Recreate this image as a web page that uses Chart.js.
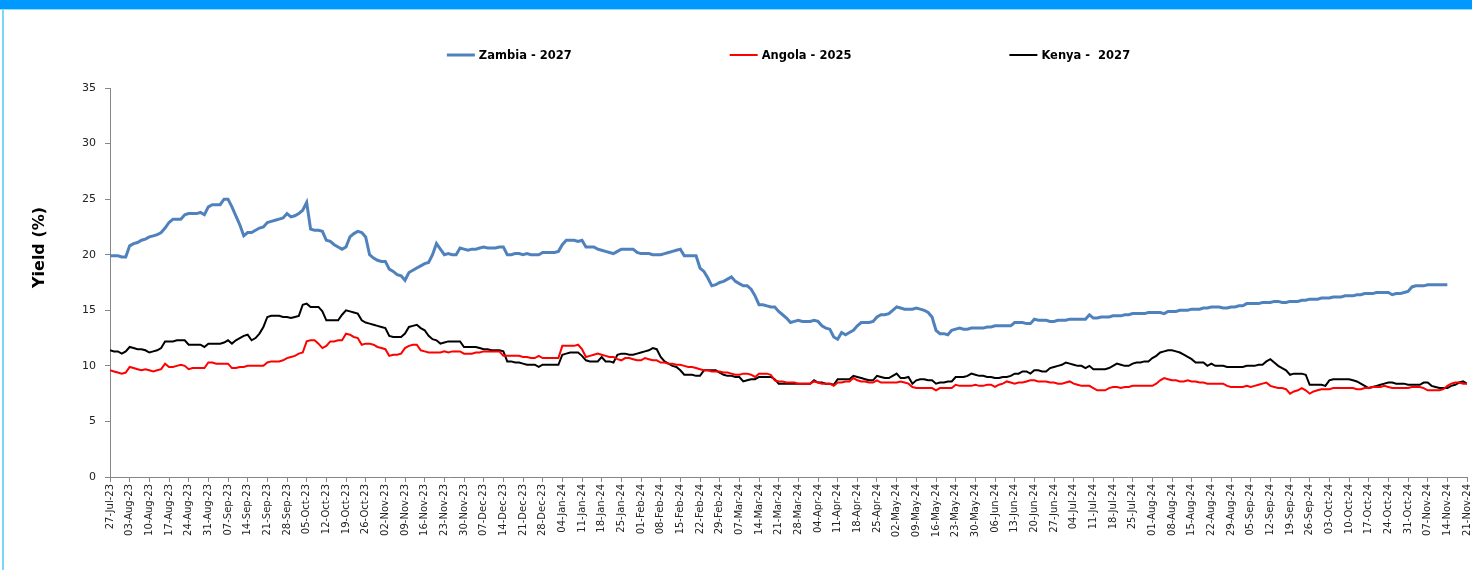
<!DOCTYPE html>
<html>
<head>
<meta charset="utf-8">
<script src="https://cdn.jsdelivr.net/npm/chart.js@4.4.1/dist/chart.umd.min.js"></script>
<style>
  html, body { margin: 0; padding: 0; background: #fff; }
  #wrap { position: relative; width: 1472px; height: 570px; overflow: hidden; }
  #topbar { position: absolute; left: 0; top: 0; width: 1472px; height: 9px; background: #0099ff; border-bottom: 1px solid #8fdcff; }
  #leftbar { position: absolute; left: 2px; top: 10px; width: 2px; height: 560px; background: #7fd4f7; }
  canvas { position: absolute; left: 0; top: 0; }
</style>
</head>
<body>
<div id="wrap">
  <canvas id="chart" width="1472" height="570"></canvas>
  <div id="topbar"></div>
  <div id="leftbar"></div>
</div>
<script>
// ── Data ─────────────────────────────────────────────────────────────────────
// weekly axis labels (Thursdays); series hold one value per business day, 5 per week

const WEEK_LABELS = [
  '27-Jul-23','03-Aug-23','10-Aug-23','17-Aug-23','24-Aug-23','31-Aug-23','07-Sep-23','14-Sep-23',
  '21-Sep-23','28-Sep-23','05-Oct-23','12-Oct-23','19-Oct-23','26-Oct-23','02-Nov-23','09-Nov-23',
  '16-Nov-23','23-Nov-23','30-Nov-23','07-Dec-23','14-Dec-23','21-Dec-23','28-Dec-23','04-Jan-24',
  '11-Jan-24','18-Jan-24','25-Jan-24','01-Feb-24','08-Feb-24','15-Feb-24','22-Feb-24','29-Feb-24',
  '07-Mar-24','14-Mar-24','21-Mar-24','28-Mar-24','04-Apr-24','11-Apr-24','18-Apr-24','25-Apr-24',
  '02-May-24','09-May-24','16-May-24','23-May-24','30-May-24','06-Jun-24','13-Jun-24','20-Jun-24',
  '27-Jun-24','04-Jul-24','11-Jul-24','18-Jul-24','25-Jul-24','01-Aug-24','08-Aug-24','15-Aug-24',
  '22-Aug-24','29-Aug-24','05-Sep-24','12-Sep-24','19-Sep-24','26-Sep-24','03-Oct-24','10-Oct-24',
  '17-Oct-24','24-Oct-24','31-Oct-24','07-Nov-24','14-Nov-24','21-Nov-24'
];
const DAYS_PER_WEEK = 5;

const ZAMBIA_2027 = [
  19.9, 19.9, 19.9, 19.8, 19.8,  20.8, 21.0, 21.1, 21.3, 21.4,
  21.6, 21.7, 21.8, 22.0, 22.4,  22.9, 23.2, 23.2, 23.2, 23.6,
  23.7, 23.7, 23.7, 23.8, 23.6,  24.3, 24.5, 24.5, 24.5, 25.0,
  25.0, 24.3, 23.5, 22.7, 21.7,  22.0, 22.0, 22.2, 22.4, 22.5,
  22.9, 23.0, 23.1, 23.2, 23.3,  23.7, 23.4, 23.5, 23.7, 24.0,
  24.7, 22.3, 22.2, 22.2, 22.1,  21.3, 21.2, 20.9, 20.7, 20.5,
  20.7, 21.6, 21.9, 22.1, 22.0,  21.6, 20.0, 19.7, 19.5, 19.4,
  19.4, 18.7, 18.5, 18.2, 18.1,  17.7, 18.4, 18.6, 18.8, 19.0,
  19.2, 19.3, 20.0, 21.0, 20.5,  20.0, 20.1, 20.0, 20.0, 20.6,
  20.5, 20.4, 20.5, 20.5, 20.6,  20.7, 20.6, 20.6, 20.6, 20.7,
  20.7, 20.0, 20.0, 20.1, 20.1,  20.0, 20.1, 20.0, 20.0, 20.0,
  20.2, 20.2, 20.2, 20.2, 20.3,  20.9, 21.3, 21.3, 21.3, 21.2,
  21.3, 20.7, 20.7, 20.7, 20.5,  20.4, 20.3, 20.2, 20.1, 20.3,
  20.5, 20.5, 20.5, 20.5, 20.2,  20.1, 20.1, 20.1, 20.0, 20.0,
  20.0, 20.1, 20.2, 20.3, 20.4,  20.5, 19.9, 19.9, 19.9, 19.9,
  18.8, 18.5, 17.9, 17.2, 17.3,  17.5, 17.6, 17.8, 18.0, 17.6,
  17.4, 17.2, 17.2, 16.9, 16.3,  15.5, 15.5, 15.4, 15.3, 15.3,
  14.9, 14.6, 14.3, 13.9, 14.0,  14.1, 14.0, 14.0, 14.0, 14.1,
  14.0, 13.6, 13.4, 13.3, 12.6,  12.4, 13.0, 12.8, 13.0, 13.2,
  13.6, 13.9, 13.9, 13.9, 14.0,  14.4, 14.6, 14.6, 14.7, 15.0,
  15.3, 15.2, 15.1, 15.1, 15.1,  15.2, 15.1, 15.0, 14.8, 14.4,
  13.2, 12.9, 12.9, 12.8, 13.2,  13.3, 13.4, 13.3, 13.3, 13.4,
  13.4, 13.4, 13.4, 13.5, 13.5,  13.6, 13.6, 13.6, 13.6, 13.6,
  13.9, 13.9, 13.9, 13.8, 13.8,  14.2, 14.1, 14.1, 14.1, 14.0,
  14.0, 14.1, 14.1, 14.1, 14.2,  14.2, 14.2, 14.2, 14.2, 14.6,
  14.3, 14.3, 14.4, 14.4, 14.4,  14.5, 14.5, 14.5, 14.6, 14.6,
  14.7, 14.7, 14.7, 14.7, 14.8,  14.8, 14.8, 14.8, 14.7, 14.9,
  14.9, 14.9, 15.0, 15.0, 15.0,  15.1, 15.1, 15.1, 15.2, 15.2,
  15.3, 15.3, 15.3, 15.2, 15.2,  15.3, 15.3, 15.4, 15.4, 15.6,
  15.6, 15.6, 15.6, 15.7, 15.7,  15.7, 15.8, 15.8, 15.7, 15.7,
  15.8, 15.8, 15.8, 15.9, 15.9,  16.0, 16.0, 16.0, 16.1, 16.1,
  16.1, 16.2, 16.2, 16.2, 16.3,  16.3, 16.3, 16.4, 16.4, 16.5,
  16.5, 16.5, 16.6, 16.6, 16.6,  16.6, 16.4, 16.5, 16.5, 16.6,
  16.7, 17.1, 17.2, 17.2, 17.2,  17.3, 17.3, 17.3, 17.3, 17.3,
  17.3
];

const ANGOLA_2025 = [
  9.6, 9.5, 9.4, 9.3, 9.4,   9.9, 9.8, 9.7, 9.6, 9.7,
  9.6, 9.5, 9.6, 9.7, 10.2,  9.9, 9.9, 10.0, 10.1, 10.0,
  9.7, 9.8, 9.8, 9.8, 9.8,   10.3, 10.3, 10.2, 10.2, 10.2,
  10.2, 9.8, 9.8, 9.9, 9.9,  10.0, 10.0, 10.0, 10.0, 10.0,
  10.3, 10.4, 10.4, 10.4, 10.5,  10.7, 10.8, 10.9, 11.1, 11.2,
  12.2, 12.3, 12.3, 12.0, 11.6,  11.8, 12.2, 12.2, 12.3, 12.3,
  12.9, 12.8, 12.6, 12.5, 11.9,  12.0, 12.0, 11.9, 11.7, 11.6,
  11.5, 10.9, 11.0, 11.0, 11.1,  11.6, 11.8, 11.9, 11.9, 11.4,
  11.3, 11.2, 11.2, 11.2, 11.2,  11.3, 11.2, 11.3, 11.3, 11.3,
  11.1, 11.1, 11.1, 11.2, 11.2,  11.3, 11.3, 11.3, 11.3, 11.3,
  10.9, 10.9, 10.9, 10.9, 10.9,  10.8, 10.8, 10.7, 10.7, 10.9,
  10.7, 10.7, 10.7, 10.7, 10.7,  11.8, 11.8, 11.8, 11.8, 11.9,
  11.5, 10.8, 10.9, 11.0, 11.1,  11.0, 10.9, 10.8, 10.8, 10.6,
  10.5, 10.7, 10.7, 10.6, 10.5,  10.5, 10.7, 10.6, 10.5, 10.5,
  10.3, 10.3, 10.2, 10.2, 10.1,  10.1, 10.0, 9.9, 9.9, 9.8,
  9.7, 9.6, 9.6, 9.5, 9.5,   9.5, 9.4, 9.4, 9.3, 9.2,
  9.2, 9.3, 9.3, 9.2, 9.0,   9.3, 9.3, 9.3, 9.2, 8.7,
  8.6, 8.6, 8.5, 8.5, 8.5,   8.4, 8.4, 8.4, 8.4, 8.6,
  8.5, 8.4, 8.4, 8.4, 8.2,   8.5, 8.5, 8.6, 8.6, 8.9,
  8.7, 8.6, 8.6, 8.5, 8.5,   8.7, 8.5, 8.5, 8.5, 8.5,
  8.5, 8.6, 8.5, 8.4, 8.1,   8.0, 8.0, 8.0, 8.0, 8.0,
  7.8, 8.0, 8.0, 8.0, 8.0,   8.3, 8.2, 8.2, 8.2, 8.2,
  8.3, 8.2, 8.2, 8.3, 8.3,   8.1, 8.3, 8.4, 8.6, 8.5,
  8.4, 8.5, 8.5, 8.6, 8.7,   8.7, 8.6, 8.6, 8.6, 8.5,
  8.5, 8.4, 8.4, 8.5, 8.6,   8.4, 8.3, 8.2, 8.2, 8.2,
  8.0, 7.8, 7.8, 7.8, 8.0,   8.1, 8.1, 8.0, 8.1, 8.1,
  8.2, 8.2, 8.2, 8.2, 8.2,   8.2, 8.4, 8.7, 8.9, 8.8,
  8.7, 8.7, 8.6, 8.6, 8.7,   8.6, 8.6, 8.5, 8.5, 8.4,
  8.4, 8.4, 8.4, 8.4, 8.2,   8.1, 8.1, 8.1, 8.1, 8.2,
  8.1, 8.2, 8.3, 8.4, 8.5,   8.2, 8.1, 8.0, 8.0, 7.9,
  7.5, 7.7, 7.8, 8.0, 7.8,   7.5, 7.7, 7.8, 7.9, 7.9,
  7.9, 8.0, 8.0, 8.0, 8.0,   8.0, 8.0, 7.9, 7.9, 8.0,
  8.0, 8.1, 8.1, 8.1, 8.2,   8.1, 8.0, 8.0, 8.0, 8.0,
  8.0, 8.1, 8.1, 8.1, 8.0,   7.8, 7.8, 7.8, 7.8, 7.9,
  8.2, 8.4, 8.5, 8.5, 8.4,   8.4
];

const KENYA_2027 = [
  11.4, 11.3, 11.3, 11.1, 11.3,  11.7, 11.6, 11.5, 11.5, 11.4,
  11.2, 11.3, 11.4, 11.6, 12.2,  12.2, 12.2, 12.3, 12.3, 12.3,
  11.9, 11.9, 11.9, 11.9, 11.7,  12.0, 12.0, 12.0, 12.0, 12.1,
  12.3, 12.0, 12.3, 12.5, 12.7,  12.8, 12.3, 12.5, 12.9, 13.5,
  14.4, 14.5, 14.5, 14.5, 14.4,  14.4, 14.3, 14.4, 14.5, 15.5,
  15.6, 15.3, 15.3, 15.3, 14.9,  14.1, 14.1, 14.1, 14.1, 14.6,
  15.0, 14.9, 14.8, 14.7, 14.1,  13.9, 13.8, 13.7, 13.6, 13.5,
  13.4, 12.7, 12.6, 12.6, 12.6,  12.9, 13.5, 13.6, 13.7, 13.4,
  13.2, 12.7, 12.4, 12.3, 12.0,  12.1, 12.2, 12.2, 12.2, 12.2,
  11.7, 11.7, 11.7, 11.7, 11.6,  11.5, 11.5, 11.4, 11.4, 11.4,
  11.3, 10.4, 10.4, 10.3, 10.3,  10.2, 10.1, 10.1, 10.1, 9.9,
  10.1, 10.1, 10.1, 10.1, 10.1,  11.0, 11.1, 11.2, 11.2, 11.2,
  10.9, 10.5, 10.4, 10.4, 10.4,  10.8, 10.4, 10.4, 10.3, 11.0,
  11.1, 11.1, 11.0, 11.0, 11.1,  11.2, 11.3, 11.4, 11.6, 11.5,
  10.8, 10.4, 10.2, 10.0, 9.9,   9.6, 9.2, 9.2, 9.2, 9.1,
  9.1, 9.6, 9.6, 9.6, 9.6,   9.4, 9.2, 9.1, 9.1, 9.0,
  9.0, 8.6, 8.7, 8.8, 8.8,   9.0, 9.0, 9.0, 9.0, 8.8,
  8.4, 8.4, 8.4, 8.4, 8.4,   8.4, 8.4, 8.4, 8.4, 8.7,
  8.5, 8.5, 8.4, 8.4, 8.3,   8.8, 8.8, 8.8, 8.8, 9.1,
  9.0, 8.9, 8.8, 8.7, 8.7,   9.1, 9.0, 8.9, 8.9, 9.1,
  9.3, 8.9, 8.9, 9.0, 8.4,   8.7, 8.8, 8.8, 8.7, 8.7,
  8.4, 8.5, 8.5, 8.6, 8.6,   9.0, 9.0, 9.0, 9.1, 9.3,
  9.2, 9.1, 9.1, 9.0, 9.0,   8.9, 8.9, 9.0, 9.0, 9.1,
  9.3, 9.3, 9.5, 9.5, 9.3,   9.6, 9.6, 9.5, 9.5, 9.8,
  9.9, 10.0, 10.1, 10.3, 10.2,  10.1, 10.0, 10.0, 9.8, 10.0,
  9.7, 9.7, 9.7, 9.7, 9.8,   10.0, 10.2, 10.1, 10.0, 10.0,
  10.2, 10.3, 10.3, 10.4, 10.4,  10.7, 10.9, 11.2, 11.3, 11.4,
  11.4, 11.3, 11.2, 11.0, 10.8,  10.6, 10.3, 10.3, 10.3, 10.0,
  10.2, 10.0, 10.0, 10.0, 9.9,   9.9, 9.9, 9.9, 9.9, 10.0,
  10.0, 10.0, 10.1, 10.1, 10.4,  10.6, 10.3, 10.0, 9.8, 9.6,
  9.2, 9.3, 9.3, 9.3, 9.2,   8.3, 8.3, 8.3, 8.3, 8.2,
  8.7, 8.8, 8.8, 8.8, 8.8,   8.8, 8.7, 8.6, 8.4, 8.2,
  8.0, 8.1, 8.2, 8.3, 8.4,   8.5, 8.5, 8.4, 8.4, 8.4,
  8.3, 8.3, 8.3, 8.3, 8.5,   8.5, 8.2, 8.1, 8.0, 8.0,
  8.0, 8.2, 8.3, 8.5, 8.6,   8.4
];

// ── Chart ────────────────────────────────────────────────────────────────────

const AXIS_COLOR = '#868686';
const TICK_FONT  = "'DejaVu Sans', Verdana, sans-serif";
const Y_TITLE    = 'Yield (%)';

const toPoints = arr => arr.map((v, i) => ({ x: i, y: v }));
const lastIndex = (WEEK_LABELS.length - 1) * DAYS_PER_WEEK;

// legend row and y title drawn by hand, placed like the spreadsheet original
const decorations = {
  id: 'decorations',
  afterDraw(chart) {
    const { ctx, chartArea } = chart;
    const gap = 158, lineLen = 28, y = 55;
    ctx.save();
    ctx.font = "bold 11.5px 'DejaVu Sans', Verdana, sans-serif";
    ctx.textBaseline = 'middle';
    const items = chart.data.datasets.map(ds => ({ ds, w: lineLen + 4 + ctx.measureText(ds.label).width }));
    const total = items.reduce((s, it) => s + it.w, 0) + gap * (items.length - 1);
    let x = (chartArea.left + chartArea.right) / 2 - total / 2;
    items.forEach(it => {
      ctx.strokeStyle = it.ds.borderColor;
      ctx.lineWidth = it.ds.borderWidth;
      ctx.beginPath();
      ctx.moveTo(x, y);
      ctx.lineTo(x + lineLen, y);
      ctx.stroke();
      ctx.fillStyle = '#000';
      ctx.fillText(it.ds.label, x + lineLen + 4, y + 1);
      x += it.w + gap;
    });

    // y-axis title sits a little above the middle of the axis
    ctx.font = "bold 16px 'DejaVu Sans', Verdana, sans-serif";
    ctx.textAlign = 'center';
    ctx.translate(40, (chartArea.top + chartArea.bottom) / 2 - 35);
    ctx.rotate(-Math.PI / 2);
    ctx.fillText(Y_TITLE, 0, 0);
    ctx.restore();
  }
};

new Chart(document.getElementById('chart'), {
  type: 'line',
  data: {
    datasets: [
      { label: 'Zambia - 2027', data: toPoints(ZAMBIA_2027), borderColor: '#4f81bd', borderWidth: 3 },
      { label: 'Angola - 2025', data: toPoints(ANGOLA_2025), borderColor: '#ff0000', borderWidth: 2 },
      { label: 'Kenya -  2027', data: toPoints(KENYA_2027),  borderColor: '#000000', borderWidth: 2 },
    ],
  },
  options: {
    responsive: false,
    animation: false,
    layout: { padding: { top: 88, right: 5, bottom: 0, left: 0 } },
    elements: { point: { radius: 0 }, line: { tension: 0 } },
    plugins: { legend: { display: false }, tooltip: { enabled: false } },
    scales: {
      x: {
        type: 'linear',
        min: 0,
        max: lastIndex,
        border: { color: AXIS_COLOR, width: 1 },
        grid: { drawOnChartArea: false, tickLength: 5, color: AXIS_COLOR },
        ticks: {
          stepSize: DAYS_PER_WEEK,
          autoSkip: false,
          minRotation: 90,
          maxRotation: 90,
          padding: 2,
          color: '#222',
          font: { family: TICK_FONT, size: 10 },
          callback: v => WEEK_LABELS[Math.round(v / DAYS_PER_WEEK)],
        },
        afterFit: s => { s.height = 93; s.paddingLeft = 0; s.paddingRight = 0; },
      },
      y: {
        min: 0,
        max: 35,
        border: { color: AXIS_COLOR, width: 1 },
        grid: { drawOnChartArea: false, tickLength: 5, color: AXIS_COLOR },
        ticks: { stepSize: 5, padding: 9, color: '#222', font: { family: TICK_FONT, size: 11 } },
        afterFit: s => { s.width = 110; },
      },
    },
  },
  plugins: [decorations],
});
</script>
</body>
</html>
